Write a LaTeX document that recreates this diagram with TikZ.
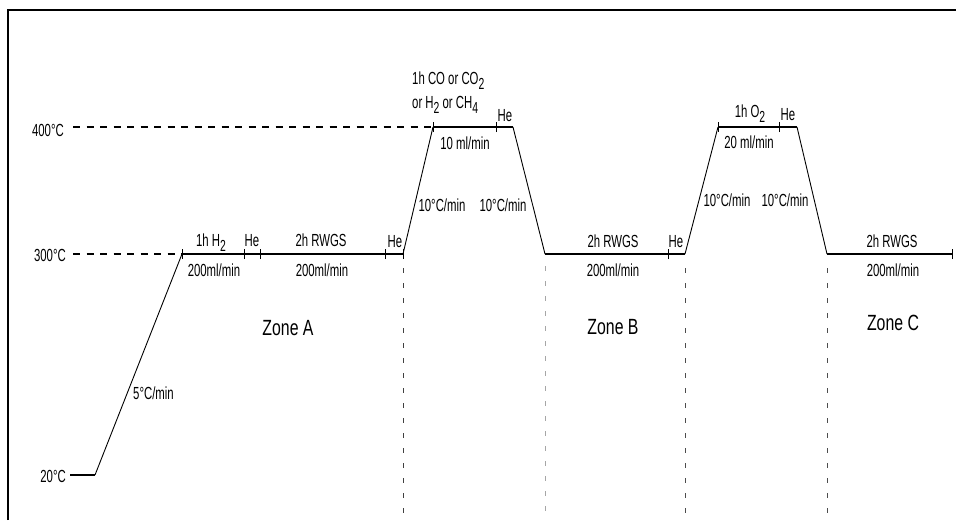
\documentclass[tikz,border=0pt]{standalone}
\usepackage{fontspec}
\setmainfont[FakeStretch=0.65]{Liberation Sans}
\newfontfamily\zonefont[FakeStretch=0.72]{Liberation Sans}
\usetikzlibrary{positioning,calc}
\newcommand{\lowsub}[1]{\raisebox{-0.32em}{\fontsize{16}{16}\selectfont #1}}

\begin{document}
\begin{tikzpicture}[x=1pt,y=-1pt,
    lbl/.style={inner sep=0pt,anchor=base,font=\fontsize{17.5}{20}\selectfont},
    zonelbl/.style={inner sep=0pt,anchor=base,font=\zonefont\fontsize{22}{24}\selectfont},
    prof/.style={line width=1.6pt},
    ramp/.style={line width=0.9pt},
    refdash/.style={line width=1.5pt,dash pattern=on 7pt off 6.5pt},
    zonesep/.style={line width=1pt,dash pattern=on 5pt off 10pt},
    tickln/.style={line width=1pt}]
    \useasboundingbox (0,0) rectangle (956,520);
    \draw[line width=2pt] (8,520) -- (8,10) -- (956,10);

    \coordinate (p0) at (70,475);
    \coordinate (p1) at (95,475);
    \coordinate (p2) at (182,254);
    \coordinate (t1) at (244,254);
    \coordinate (t2) at (260,254);
    \coordinate (t3) at (385,254);
    \coordinate (p3) at (403,254);
    \coordinate (p4) at (433,127);
    \coordinate (t4) at (496,127);
    \coordinate (p5) at (513,127);
    \coordinate (p6) at (545,254);
    \coordinate (t5) at (668,254);
    \coordinate (p7) at (685,254);
    \coordinate (p8) at (718,127);
    \coordinate (t6) at (779,127);
    \coordinate (p9) at (797,127);
    \coordinate (p10) at (827,254);
    \coordinate (p11) at (952,254);
    \coordinate (r400) at (73,127);
    \coordinate (r300) at (73,254);

    \node (c400) [lbl,anchor=base east] at (64,136) {400°C};
    \node (c300) [lbl,anchor=base east] at (66,261) {300°C};
    \node (c20) [lbl,anchor=base east] at (66,482) {20°C};

    \draw[refdash] (r400) -- (p4);
    \draw[refdash] (r300) -- (p2);

    \draw[prof] (p0) -- (p1);
    \draw[ramp] (p1) -- (p2);
    \draw[prof] (p2) -- (p3);
    \draw[ramp] (p3) -- (p4);
    \draw[prof] (p4) -- (p5);
    \draw[ramp] (p5) -- (p6);
    \draw[prof] (p6) -- (p7);
    \draw[ramp] (p7) -- (p8);
    \draw[prof] (p8) -- (p9);
    \draw[ramp] (p9) -- (p10);
    \draw[prof] (p10) -- (p11);

    \foreach \c in {p2,t1,t2,t3,p3,p4,t4,t5,p8,t6,p11}
        \draw[tickln] ([yshift=-5pt]\c) -- ([yshift=5pt]\c);

    \draw[zonesep,black!75] (403,268) -- (403,520);
    \draw[zonesep,black!35] (545,266) -- (545,520);
    \draw[zonesep,black!70] (685,268) -- (685,520);
    \draw[zonesep,black!70] (827,268) -- (827,520);

    \node (rate5) [lbl,anchor=base west] at (133,399) {5°C/min};
    \node (hydA) [lbl] at (211,246) {1h H\lowsub{2}};
    \node (heA1) [lbl] at (252,246) {He};
    \node (rwgsA) [lbl] at (321,246) {2h RWGS};
    \node (heA2) [lbl] at (395,247) {He};
    \node (flowA1) [lbl] at (214,276) {200ml/min};
    \node (flowA2) [lbl] at (322,276) {200ml/min};
    \node (zoneA) [zonelbl] at (288,335) {Zone A};

    \node (gas1) [lbl,anchor=base west] at (412,84) {1h CO or CO\lowsub{2}};
    \node (gas2) [lbl,anchor=base west] at (412,108) {or H\lowsub{2} or CH\lowsub{4}};
    \node (heT1) [lbl] at (505,121) {He};
    \node (flowT1) [lbl] at (465,149) {10 ml/min};
    \node (up1) [lbl] at (442,211) {10°C/min};
    \node (down1) [lbl] at (503,211) {10°C/min};

    \node (rwgsB) [lbl] at (613,247) {2h RWGS};
    \node (heB) [lbl] at (676,247) {He};
    \node (flowB) [lbl] at (613,276) {200ml/min};
    \node (zoneB) [zonelbl] at (613,334) {Zone B};

    \node (oxy) [lbl] at (750,117) {1h O\lowsub{2}};
    \node (heT2) [lbl] at (788,120) {He};
    \node (flowT2) [lbl] at (749,148) {20 ml/min};
    \node (up2) [lbl] at (727,206) {10°C/min};
    \node (down2) [lbl] at (785,206) {10°C/min};

    \node (rwgsC) [lbl] at (892,247) {2h RWGS};
    \node (flowC) [lbl] at (893,276) {200ml/min};
    \node (zoneC) [zonelbl] at (893,330) {Zone C};
\end{tikzpicture}
\end{document}
